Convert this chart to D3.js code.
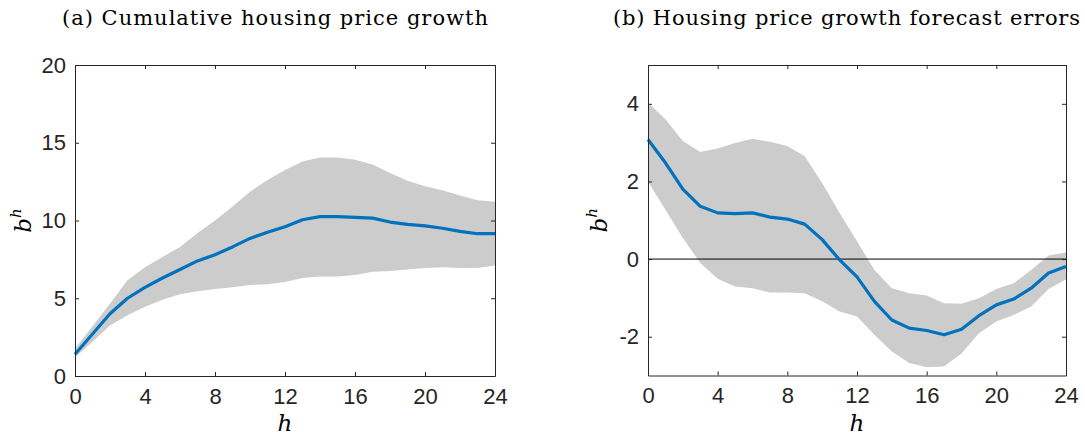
<!DOCTYPE html>
<html>
<head>
<meta charset="utf-8">
<script src="https://cdn.jsdelivr.net/npm/d3@7"></script>
<style>
  body { margin: 0; background: #fff; }
  svg { display: block; }
</style>
</head>
<body>
<svg id="chart" width="1085" height="432"></svg>
<script>
// horizon h = 0..24
const horizons = d3.range(0, 25);

// (a) cumulative housing price growth
const growthMean = [1.4, 2.7, 4.0, 5.0, 5.7, 6.3, 6.85, 7.4, 7.8, 8.3, 8.85, 9.25, 9.6,
  10.05, 10.25, 10.25, 10.2, 10.15, 9.9, 9.75, 9.65, 9.5, 9.3, 9.15, 9.15];
const growthUpper = [1.75, 3.2, 4.65, 6.15, 7.0, 7.65, 8.3, 9.2, 10.0, 10.9, 11.85, 12.6, 13.25,
  13.8, 14.05, 14.05, 13.9, 13.6, 13.05, 12.55, 12.2, 11.95, 11.6, 11.3, 11.2];
const growthLower = [1.2, 2.2, 3.25, 3.9, 4.45, 4.9, 5.25, 5.45, 5.6, 5.7, 5.85, 5.9, 6.05,
  6.3, 6.4, 6.4, 6.5, 6.7, 6.75, 6.85, 6.95, 7.0, 6.95, 6.95, 7.1];

// (b) housing price growth forecast errors
const errorMean = [3.08, 2.48, 1.8, 1.36, 1.19, 1.17, 1.19, 1.08, 1.03, 0.9, 0.5, -0.02, -0.46,
  -1.09, -1.57, -1.78, -1.84, -1.95, -1.81, -1.46, -1.18, -1.03, -0.75, -0.36, -0.19];
const errorUpper = [4.03, 3.6, 3.04, 2.76, 2.85, 2.99, 3.1, 3.02, 2.91, 2.65, 1.96, 1.19, 0.46,
  -0.28, -0.75, -0.88, -0.94, -1.14, -1.15, -1.01, -0.77, -0.62, -0.28, 0.09, 0.17];
const errorLower = [2.0, 1.27, 0.54, -0.1, -0.51, -0.71, -0.75, -0.86, -0.86, -0.88, -1.09, -1.35, -1.48,
  -1.95, -2.38, -2.68, -2.79, -2.77, -2.43, -1.91, -1.61, -1.44, -1.22, -0.77, -0.52];

const xTicks = [0, 4, 8, 12, 16, 20, 24];
const growthTicks = [0, 5, 10, 15, 20];
const errorTicks = [-2, 0, 2, 4];

const titleA = '(a) Cumulative housing price growth';
const titleB = '(b) Housing price growth forecast errors';

const SANS = "'Liberation Sans', Arial, sans-serif";
const SERIF = "'DejaVu Serif', serif";

const svg = d3.select('#chart');

function panel({ left, right, top, bottom, yDomain, yTicks, mean, upper, lower,
                 title, titleX, titleLen, ylabX, zeroLine }) {
  const x = d3.scaleLinear().domain([0, 24]).range([left, right]);
  const y = d3.scaleLinear().domain(yDomain).range([bottom, top]);
  const g = svg.append('g');

  const band = horizons.map((h, i) => ({ h, lo: lower[i], hi: upper[i] }));
  g.append('path')
    .datum(band)
    .attr('d', d3.area().x(d => x(d.h)).y0(d => y(d.lo)).y1(d => y(d.hi)))
    .attr('fill', '#cccccc');

  if (zeroLine) {
    g.append('line')
      .attr('x1', x(0)).attr('x2', x(24))
      .attr('y1', y(0)).attr('y2', y(0))
      .attr('stroke', '#000').attr('stroke-width', 1);
  }

  g.append('path')
    .datum(horizons.map((h, i) => [h, mean[i]]))
    .attr('d', d3.line().x(d => x(d[0])).y(d => y(d[1])))
    .attr('fill', 'none')
    .attr('stroke', '#0072BD')
    .attr('stroke-width', 3.2)
    .attr('stroke-linejoin', 'round');

  // axes, MATLAB style: ticks inside, box all round
  const axColor = '#262626';
  const fmt = d => String(d);  // plain hyphen minus like the original
  const styleAxis = sel => {
    sel.attr('font-family', null).attr('font-size', null);
    sel.select('.domain').attr('stroke', axColor).attr('stroke-width', 1);
    sel.selectAll('.tick line').attr('stroke', axColor);
    sel.selectAll('.tick text')
      .attr('fill', axColor)
      .style('font-family', SANS)
      .style('font-size', '22px');
  };
  g.append('g')
    .attr('transform', `translate(0,${bottom})`)
    .call(d3.axisBottom(x).tickValues(xTicks).tickFormat(fmt).tickSizeInner(-4).tickSizeOuter(0).tickPadding(12))
    .call(styleAxis)
    .call(s => s.selectAll('.tick text').attr('dy', '0.71em'));
  g.append('g')
    .attr('transform', `translate(0,${top})`)
    .call(d3.axisTop(x).tickValues(xTicks).tickSizeInner(-4).tickSizeOuter(0))
    .call(styleAxis)
    .call(s => s.selectAll('.tick text').remove());
  g.append('g')
    .attr('transform', `translate(${left},0)`)
    .call(d3.axisLeft(y).tickValues(yTicks).tickFormat(fmt).tickSizeInner(-4).tickSizeOuter(0).tickPadding(9))
    .call(styleAxis);
  g.append('g')
    .attr('transform', `translate(${right},0)`)
    .call(d3.axisRight(y).tickValues(yTicks).tickSizeInner(-4).tickSizeOuter(0))
    .call(styleAxis)
    .call(s => s.selectAll('.tick text').remove());

  g.append('text')
    .attr('x', titleX).attr('y', 25)
    .style('font-family', SERIF)
    .style('font-size', '21px')
    .attr('textLength', titleLen)
    .attr('lengthAdjust', 'spacing')
    .text(title);

  g.append('text')
    .attr('x', (left + right) / 2).attr('y', 431)
    .attr('text-anchor', 'middle')
    .style('font-family', SERIF)
    .style('font-style', 'italic')
    .style('font-size', '23px')
    .text('h');

  const yl = g.append('text')
    .attr('transform', `translate(${ylabX},${(top + bottom) / 2}) rotate(-90)`)
    .attr('text-anchor', 'middle')
    .style('font-family', SERIF)
    .style('font-style', 'italic')
    .style('font-size', '23px');
  yl.append('tspan').text('b');
  yl.append('tspan').style('font-size', '15px').attr('dy', -10).text('h');
}

panel({
  left: 75, right: 495, top: 65, bottom: 376,
  yDomain: [0, 20], yTicks: growthTicks,
  mean: growthMean, upper: growthUpper, lower: growthLower,
  title: titleA, titleX: 62, titleLen: 426, ylabX: 31, zeroLine: false
});

panel({
  left: 648, right: 1066, top: 65, bottom: 375.5,
  yDomain: [-3, 5], yTicks: errorTicks,
  mean: errorMean, upper: errorUpper, lower: errorLower,
  title: titleB, titleX: 613, titleLen: 467, ylabX: 607, zeroLine: true
});
</script>
</body>
</html>
